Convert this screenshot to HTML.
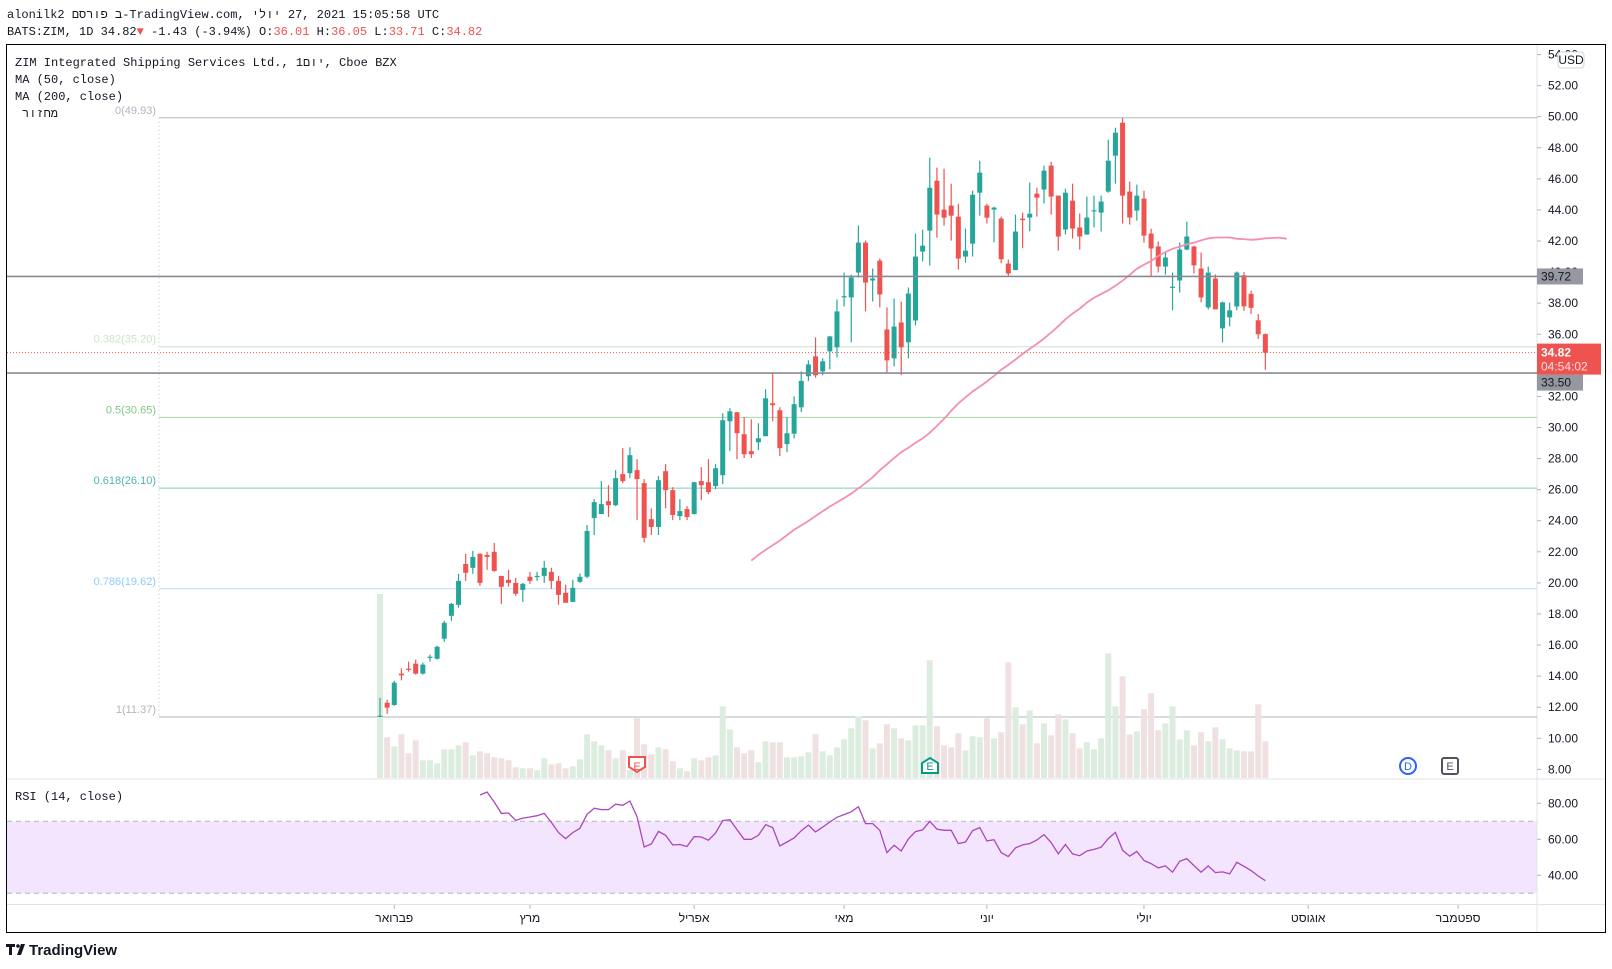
<!DOCTYPE html>
<html><head><meta charset="utf-8"><style>
html,body{margin:0;padding:0;background:#fff;width:1612px;height:969px;overflow:hidden}
svg{display:block}
.mono{font-family:"Liberation Mono","DejaVu Sans Mono",monospace;font-size:12px;fill:#131722}
.ax{font-family:"Liberation Sans","DejaVu Sans",sans-serif;font-size:12px;fill:#131722}
</style></head><body>
<svg id="chart" width="1612" height="969" viewBox="0 0 1612 969" xmlns="http://www.w3.org/2000/svg">
<rect x="0" y="0" width="1612" height="969" fill="#fff"/>
<text class="mono" x="7" y="18">alonilk2 פורסם&#x200E; ב&#x200E;-TradingView.com, יולי&#x200E;  27, 2021 15:05:58 UTC</text>
<text class="mono" x="7" y="35">BATS:ZIM, 1D 34.82<tspan fill="#ef5350">▼</tspan> -1.43 (-3.94%) O:<tspan fill="#ef5350">36.01</tspan> H:<tspan fill="#ef5350">36.05</tspan> L:<tspan fill="#ef5350">33.71</tspan> C:<tspan fill="#ef5350">34.82</tspan></text>
<g id="rsiBg"></g>
<g id="grid"></g>
<g id="fib"></g>
<g id="vol"></g>
<g id="candles"></g>
<g id="ma"></g>
<g id="rsi"></g>
<g id="levels"></g>
<g id="axis"></g>
<text class="mono" x="15" y="66">ZIM Integrated Shipping Services Ltd., 1יום&#x200E;, Cboe BZX</text>
<text class="mono" x="15" y="83">MA (50, close)</text>
<text class="mono" x="15" y="100">MA (200, close)</text>
<text class="mono" x="22" y="117">מחזור</text>
<text class="mono" x="15" y="800">RSI (14, close)</text>
<g id="markers"></g>
<rect x="6.5" y="44.5" width="1599" height="888" fill="none" stroke="#000" stroke-width="1"/>
<g>
<path d="M6 944 h9 v3 h-3 v8 h-3 v-8 h-3z" fill="#131722"/>
<circle cx="18" cy="946" r="1.8" fill="#131722"/>
<path d="M21 944 h4 l-4 11 h-4z" fill="#131722"/>
<text x="29" y="955" font-family="Liberation Sans, sans-serif" font-weight="bold" font-size="15" fill="#131722">TradingView</text>
</g>
</svg>
<script>
const opens=[11.37,12.29,12.14,14.16,14.48,14.8,14.16,15.19,15.12,16.41,17.88,18.59,21.22,20.97,21.87,21.8,22.0,20.45,20.2,20.0,19.55,20.39,20.39,20.45,20.71,20.13,19.36,18.78,20.07,20.4,24.17,24.43,25.26,25.0,27.0,27.06,27.26,26.42,24.1,23.6,27.19,25.97,24.3,24.75,24.43,26.55,26.48,26.23,26.93,30.4,30.98,29.57,28.48,29.05,29.44,31.56,31.11,28.93,29.6,31.3,33.3,34.58,33.61,34.9,35.16,38.4,38.37,39.97,41.9,39.46,40.74,36.31,34.45,36.76,35.48,36.89,41.32,42.67,45.88,44.02,44.28,43.57,41.0,41.83,45.11,44.28,44.02,43.44,40.55,40.13,43.44,43.51,45.05,45.31,46.85,44.92,42.74,44.6,42.87,42.42,43.94,43.83,45.18,47.49,49.61,45.18,43.96,44.73,42.48,41.65,40.36,39.0,39.46,41.45,41.65,40.23,37.73,39.59,36.38,37.09,37.79,39.8,38.6,36.9,36.01];
const highs=[12.6,12.48,13.7,14.5,14.93,15.06,14.87,15.38,15.96,17.56,18.7,20.58,21.87,22.06,21.9,22.0,22.57,20.45,20.84,20.33,20.0,20.71,20.71,21.42,20.97,20.45,19.88,20.2,20.6,23.72,25.39,26.55,26.29,27.26,28.67,28.73,27.96,26.68,24.8,26.87,27.64,26.16,25.39,24.94,26.5,27.45,27.96,27.64,30.92,31.24,31.0,30.66,30.53,30.27,32.46,33.49,31.3,30.66,32.0,33.6,34.32,35.8,34.45,35.9,38.24,39.97,39.84,42.99,42.03,40.23,40.87,37.73,38.3,38.11,39.01,42.48,42.73,47.36,46.72,46.65,45.69,44.4,42.8,45.24,47.17,44.4,44.21,43.57,40.81,43.7,43.83,45.76,45.43,46.85,47.1,44.92,45.37,45.69,43.77,44.86,44.92,44.92,48.52,49.29,49.93,45.82,45.63,45.24,42.8,41.97,41.33,39.97,41.9,43.25,41.7,41.26,40.36,39.85,38.1,38.05,40.04,40.0,38.8,37.3,36.05];
const lows=[11.37,11.58,12.1,13.73,14.29,14.1,14.1,14.93,15.06,16.21,17.56,18.4,20.13,20.58,19.81,20.84,20.71,18.65,19.75,19.17,18.78,19.94,20.13,20.0,19.62,18.59,18.72,18.78,20.0,20.3,23.08,24.43,24.24,24.94,26.42,26.74,24.04,22.6,23.08,23.08,24.8,24.04,24.04,24.04,24.4,25.33,25.71,26.03,26.36,28.48,27.96,28.03,28.03,28.54,29.44,30.4,28.16,28.41,29.3,31.0,33.0,33.2,33.36,33.74,34.51,37.79,35.48,39.65,37.47,38.11,37.73,33.55,33.93,33.36,34.45,36.57,40.68,40.42,42.22,42.99,42.03,40.16,40.61,41.0,43.63,43.12,41.92,40.57,39.74,40.13,41.54,42.63,43.57,44.41,43.7,41.39,42.42,42.16,41.45,42.4,42.87,42.61,45.11,45.69,43.12,43.06,43.31,41.9,39.72,39.97,39.85,37.54,38.69,41.4,39.91,38.05,37.6,37.6,35.48,36.51,37.54,37.5,37.3,35.7,33.71];
const closes=[11.45,11.97,13.58,14.05,14.42,14.16,14.74,15.25,15.89,17.43,18.65,20.13,20.65,21.67,20.0,21.67,20.77,19.75,20.0,19.3,19.94,20.13,20.45,20.97,20.13,19.23,18.72,19.68,20.39,23.34,25.2,25.07,25.0,26.74,26.55,28.22,26.68,22.9,23.6,26.61,25.97,24.37,24.62,24.24,26.48,26.29,25.84,27.38,30.47,31.04,29.63,28.28,28.28,29.31,31.88,31.43,28.67,29.63,31.5,33.0,34.06,33.36,34.26,35.86,37.47,38.45,39.65,41.9,39.33,39.59,38.56,34.32,36.5,35.16,38.62,41.0,41.7,45.43,43.7,43.5,43.63,40.87,41.38,44.98,46.4,43.5,44.15,40.83,39.91,42.61,43.34,43.76,44.79,46.53,44.86,42.29,45.11,42.8,42.29,43.51,43.98,44.54,47.17,48.97,44.92,43.51,44.92,42.35,41.52,40.36,40.94,39.06,41.45,42.29,40.43,38.37,39.97,37.6,38.05,37.54,39.97,37.8,37.7,36.0,34.82];
const volumes=[18.4,4.07,3.17,4.37,2.47,3.77,1.77,1.77,1.47,2.87,2.87,3.27,3.57,2.27,2.67,2.47,2.07,1.97,1.77,1.07,0.97,0.97,0.77,1.97,1.37,1.47,0.97,1.17,1.87,4.37,3.67,3.27,2.77,1.97,2.77,0.8,5.97,3.37,2.37,3.07,2.87,1.67,0.97,0.67,1.97,1.77,2.07,2.27,7.17,4.87,3.07,2.47,2.77,1.57,3.67,3.57,3.57,2.07,2.07,2.17,2.57,4.37,2.67,2.27,3.07,3.87,4.97,6.17,5.77,2.97,3.47,5.37,4.97,3.97,3.77,5.27,5.27,11.77,5.17,3.27,3.07,4.47,2.77,4.17,4.07,5.97,3.97,4.57,11.57,7.07,5.37,6.77,3.47,5.47,4.27,6.37,5.87,4.47,2.97,3.57,2.87,3.97,12.47,7.17,10.17,4.37,4.67,6.87,8.47,4.77,5.47,7.17,3.87,4.77,3.27,4.57,3.67,5.07,3.87,2.97,2.77,2.67,2.67,7.37,3.67];
const rsiValues=[84.6,86.3,80.7,74.4,74.6,70.5,71.8,72.4,73.1,74.4,69.4,63.7,60.4,63.7,66.1,73.9,77.3,76.5,76.5,79.5,78.9,81.3,72.6,55.7,57.4,64.4,62.2,56.9,57.1,56.0,61.5,61.3,59.5,63.5,70.4,70.9,65.4,60.0,60.0,62.2,68.1,66.5,56.3,58.5,60.7,64.8,67.9,64.1,66.8,69.6,72.2,73.7,75.3,78.1,68.7,68.7,65.0,52.6,56.7,53.5,60.2,64.3,65.2,70.0,65.6,65.0,65.0,57.6,58.5,64.8,66.5,59.1,59.8,52.6,50.4,55.2,56.9,57.6,59.6,62.6,58.1,51.9,57.1,51.9,50.9,53.5,54.4,55.6,60.4,63.9,53.9,50.6,53.3,48.2,46.5,44.1,45.2,41.7,47.8,49.3,45.4,41.7,45.2,41.5,41.9,40.8,47.2,45.0,42.6,39.6,37.0];
const rsiStart=14;
const maOffset=3;
const priceTicks=[54,52,50,48,46,44,42,40,38,36,34,32,30,28,26,24,22,20,18,16,14,12,10,8];
const rsiTicks=[80,60,40];
const fibLevels=[0,0.382,0.5,0.618,0.786,1];
const fibPrices=[49.93,35.20,30.65,26.10,19.62,11.37];
const monthLabels=["פברואר","מרץ","אפריל","מאי","יוני","יולי","אוגוסט","ספטמבר"];
const monthIndex=[2,21,44,65,85,107,130,151];
const hLevels=[39.72,33.50];
const lastPrice=34.82;

const NS="http://www.w3.org/2000/svg";
const X0=380,STEP=7.14;
function xAt(i){return X0+STEP*i;}
function yP(p){return 116.7+(50-p)*15.54;}
function yR(r){return 803.3+(80-r)*1.8;}
function yV(v){return 778-v*10;}
function mk(tag,attrs,parent){const e=document.createElementNS(NS,tag);for(const k in attrs)e.setAttribute(k,attrs[k]);parent.appendChild(e);return e;}
const G=id=>document.getElementById(id);
const PR=1537,LEFT=7;

const band=mk('rect',{x:LEFT,y:yR(70),width:PR-LEFT,height:yR(30)-yR(70),fill:'#f3e5fd'},G('rsiBg'));


[70,30].forEach(r=>{const l=mk('line',{x1:LEFT,x2:PR,y1:yR(r),y2:yR(r),stroke:'#b2b5be','stroke-dasharray':'5,4'},G('rsiBg'));

});

const gg=G('grid');
[[LEFT,779,1605,779],[LEFT,904.5,1605,904.5],[PR,44,PR,932]].forEach(a=>{const l=mk('line',{x1:a[0],y1:a[1],x2:a[2],y2:a[3],stroke:'#e0e3eb','stroke-width':1},gg);

});

const fibColors=['#b2b5be','#c8e6c9','#81c784','#4db6ac','#90caf9','#b2b5be'];
const fibLine=['#b2b5be','#c8e6c9','#a5d6a7','#80cbc4','#bbdefb','#b2b5be'];
const fg=G('fib');
const vd=mk('line',{x1:159,x2:159,y1:yP(fibPrices[0]),y2:yP(fibPrices[5]),stroke:'#c0c3cc','stroke-dasharray':'1,3'},fg);


fibLevels.forEach((lv,k)=>{const y=yP(fibPrices[k]);
const l=mk('line',{x1:159,x2:PR,y1:y,y2:y,stroke:fibLine[k],'stroke-width':1},fg);


const t=mk('text',{x:156,y:y-4,'text-anchor':'end',fill:fibColors[k],'font-family':'Liberation Sans, sans-serif','font-size':'11'},fg);
t.textContent=lv+'('+fibPrices[k].toFixed(2)+')';

});

const vg=G('vol');
volumes.forEach((v,i)=>{const up=closes[i]>=opens[i];
const r=mk('rect',{x:xAt(i)-3,y:yV(v),width:6,height:778-yV(v),fill:up?'#dcede0':'#efe1e2'},vg);

});

const cg=G('candles');
closes.forEach((c,i)=>{const o=opens[i],up=c>=o,col=up?'#26a69a':'#ef5350';
const w=mk('line',{x1:xAt(i),x2:xAt(i),y1:yP(highs[i]),y2:yP(lows[i]),stroke:col,'stroke-width':1.2},cg);


const top=yP(Math.max(o,c)),bot=yP(Math.min(o,c));
const b=mk('rect',{x:xAt(i)-2.5,y:top,width:5,height:Math.max(1.2,bot-top),fill:col},cg);

});

let pts=[];
for(let i=49;i<closes.length;i++){let s=0;for(let j=i-49;j<=i;j++)s+=closes[j];pts.push(xAt(i+maOffset).toFixed(1)+','+yP(s/50).toFixed(1));}
const ma=mk('polyline',{points:pts.join(' '),fill:'none',stroke:'#f48fb1','stroke-width':1.8},G('ma'));



const rp=rsiValues.map((r,k)=>xAt(k+rsiStart).toFixed(1)+','+yR(r).toFixed(1)).join(' ');
const rl=mk('polyline',{points:rp,fill:'none',stroke:'#ab47bc','stroke-width':1.3},G('rsi'));



const lg=G('levels');
hLevels.forEach(p=>{const l=mk('line',{x1:LEFT,x2:PR,y1:yP(p),y2:yP(p),stroke:'#878a94','stroke-width':1.6},lg);

});
const lp=mk('line',{x1:LEFT,x2:PR,y1:yP(lastPrice),y2:yP(lastPrice),stroke:'#ef5350','stroke-width':1,'stroke-dasharray':'1,2'},lg);



const ag=G('axis');
priceTicks.forEach(p=>{const y=yP(p);if(y<46)return;
const tk=mk('line',{x1:PR,x2:PR+4,y1:y,y2:y,stroke:'#b2b5be'},ag);


const t=mk('text',{x:1548,y:y+4,class:'ax'},ag);t.textContent=p.toFixed(2);

});
rsiTicks.forEach(r=>{const y=yR(r);
const tk=mk('line',{x1:PR,x2:PR+4,y1:y,y2:y,stroke:'#b2b5be'},ag);


const t=mk('text',{x:1548,y:y+4,class:'ax'},ag);t.textContent=r.toFixed(2);

});
monthLabels.forEach((m,k)=>{const x=xAt(monthIndex[k]);
const tk=mk('line',{x1:x,x2:x,y1:905,y2:909,stroke:'#b2b5be'},ag);


const t=mk('text',{x:x,y:922,class:'ax','text-anchor':'middle'},ag);t.textContent=m;

});
const ly=yP(lastPrice);
hLevels.forEach(p=>{let y=yP(p);
if(Math.abs(y-ly)<30) y=ly+22+8;
const r=mk('rect',{x:PR,y:y-8,width:46,height:16,fill:'#9598a1'},ag);


const t=mk('text',{x:1541,y:y+4,class:'ax'},ag);t.textContent=p.toFixed(2);

});
const lr=mk('rect',{x:PR,y:ly-9,width:64,height:31,fill:'#ef5350'},ag);


const lt=mk('text',{x:1541,y:ly+4,class:'ax','font-weight':'bold'},ag);lt.textContent=lastPrice.toFixed(2);lt.style.fill='#fff';


const cd=mk('text',{x:1541,y:ly+18,class:'ax'},ag);cd.textContent='04:54:02';cd.style.fill='#fde0df';


const ub=mk('rect',{x:1558,y:52,width:26,height:16,rx:3,fill:'#fff',stroke:'#d1d4dc'},ag);


const ut=mk('text',{x:1571,y:64,class:'ax','text-anchor':'middle','font-size':'11'},ag);ut.textContent='USD';



const mg=G('markers');
function marker(x,col,ch,name,shape){
let s;
if(shape==='circle'){s=mk('circle',{cx:x,cy:766,r:8,fill:'#fff',stroke:col,'stroke-width':2},mg);}
else if(shape==='up'){s=mk('path',{d:`M${x-8} ${773} v-10 l8 -5 l8 5 v10 z`,fill:'#fff',stroke:col,'stroke-width':2},mg);}
else if(shape==='down'){s=mk('path',{d:`M${x-8} ${757} h16 v10 l-8 5 l-8 -5 z`,fill:'#fff',stroke:col,'stroke-width':2},mg);}
else{s=mk('rect',{x:x-8,y:758,width:16,height:16,rx:2,fill:'#fff',stroke:col,'stroke-width':2},mg);}


const t=mk('text',{x:x,y:770,'text-anchor':'middle','font-family':'Liberation Sans, sans-serif','font-size':'11',fill:col},mg);t.textContent=ch;

}
marker(637,'#ef5350','E','earnings-marker-1','down');
marker(930,'#089981','E','earnings-marker-2','up');
marker(1408,'#2962ff','D','dividend-marker','circle');
marker(1450,'#50535e','E','earnings-marker-next','box');
</script>
</body></html>
